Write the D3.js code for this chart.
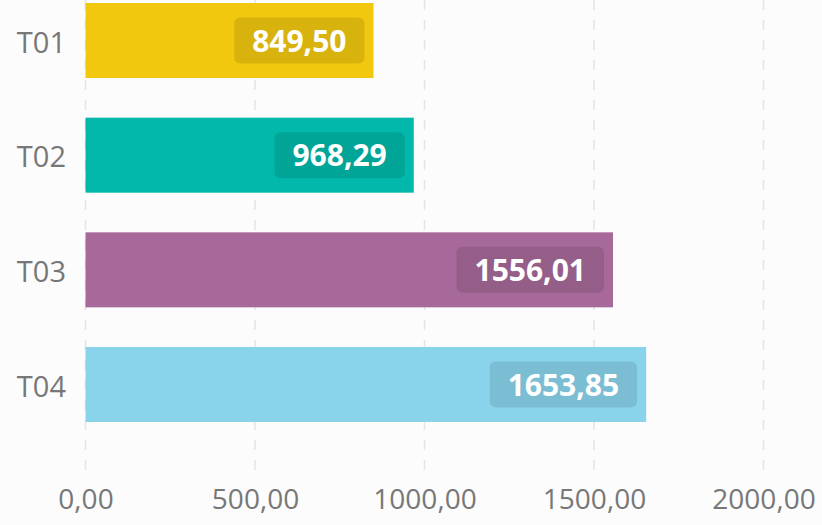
<!DOCTYPE html>
<html>
<head>
<meta charset="utf-8">
<script src="https://cdn.jsdelivr.net/npm/d3@7"></script>
<style>
  html, body { margin: 0; padding: 0; background: #fcfcfc; }
  svg { display: block; font-family: "Open Sans", "Noto Sans", sans-serif; }
</style>
</head>
<body>
<svg id="chart" width="822" height="525"></svg>
<script>
// data
const categories = ['T01', 'T02', 'T03', 'T04'];
const values = [849.50, 968.29, 1556.01, 1653.85];
const colors = ['#F2C80F', '#01B8AA', '#A66999', '#8AD4EB'];
const xTicks = [0, 500, 1000, 1500, 2000];

const data = categories.map((c, i) => ({ cat: c, value: values[i], color: colors[i] }));

// comma as decimal separator
const locale = d3.formatLocale({ decimal: ',', thousands: '', grouping: [3], currency: ['', ''] });
const fmt = locale.format('.2f');

const svg = d3.select('#chart');

const xScale = d3.scaleLinear()
    .domain([0, 2000])
    .range([85.5, 763.5]);

const yScale = d3.scaleBand()
    .domain(categories)
    .range([3, 422])
    .paddingInner(0.346)
    .paddingOuter(0);

// dashed vertical gridlines
svg.append('g')
    .attr('class', 'grid')
    .selectAll('line')
    .data(xTicks)
    .join('line')
    .attr('x1', d => xScale(d))
    .attr('x2', d => xScale(d))
    .attr('y1', 0)
    .attr('y2', 473)
    .attr('stroke', '#e4e4e4')
    .attr('stroke-width', 1.5)
    .attr('stroke-dasharray', '10,10');

// x axis labels
const xAxis = d3.axisBottom(xScale)
    .tickValues(xTicks)
    .tickFormat(fmt)
    .tickSize(0)
    .tickPadding(0);

svg.append('g')
    .attr('class', 'x-axis')
    .attr('transform', 'translate(0,480)')
    .call(xAxis)
    .call(g => g.select('.domain').remove())
    .selectAll('text')
    .attr('dy', '1.05em')
    .attr('fill', '#777')
    .style('font-family', '"Open Sans", sans-serif')
    .style('font-size', '28px');

// y axis labels
const yAxis = d3.axisLeft(yScale)
    .tickSize(0)
    .tickPadding(0);

svg.append('g')
    .attr('class', 'y-axis')
    .attr('transform', 'translate(66,0)')
    .call(yAxis)
    .call(g => g.select('.domain').remove())
    .selectAll('text')
    .attr('dy', '0.42em')
    .attr('fill', '#777')
    .style('font-family', '"Open Sans", sans-serif')
    .style('font-size', '29px');

// bars
svg.append('g')
    .selectAll('rect')
    .data(data)
    .join('rect')
    .attr('x', xScale(0))
    .attr('y', d => yScale(d.cat))
    .attr('width', d => xScale(d.value) - xScale(0))
    .attr('height', yScale.bandwidth())
    .attr('fill', d => d.color);

// value labels with darker rounded box
const labels = svg.append('g')
    .selectAll('g')
    .data(data)
    .join('g');

labels.each(function(d) {
    const g = d3.select(this);
    const box = g.append('rect')
        .attr('fill', 'rgba(0,0,0,0.1)')
        .attr('rx', 6);
    const txt = g.append('text')
        .attr('text-anchor', 'middle')
        .attr('fill', '#fff')
        .style('font-weight', 'bold')
        .style('font-size', '30px')
        .text(fmt(d.value));
    const tw = txt.node().getComputedTextLength();
    const boxW = tw + 36;
    const boxH = 46;
    const right = xScale(d.value) - 9;
    const cy = yScale(d.cat) + yScale.bandwidth() / 2;
    box.attr('x', right - boxW)
        .attr('y', cy - boxH / 2)
        .attr('width', boxW)
        .attr('height', boxH);
    txt.attr('x', right - boxW / 2)
        .attr('y', cy)
        .attr('dy', '0.37em');
});
</script>
</body>
</html>
